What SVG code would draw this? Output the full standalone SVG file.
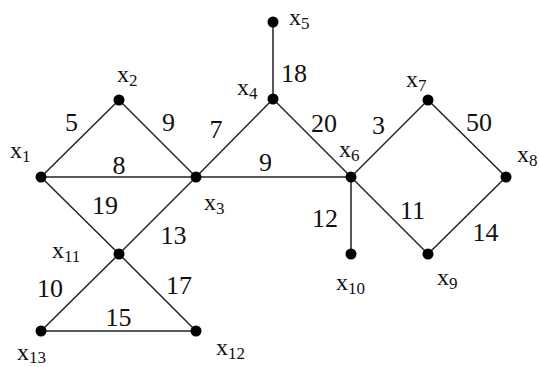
<svg xmlns="http://www.w3.org/2000/svg" width="539" height="367" viewBox="0 0 539 367">
<style>
.e{stroke:#222;stroke-width:1.5;fill:none}
.n{fill:#000}
.l{font-size:24px;fill:#111}
.s{font-size:17px}
.w{font-size:26px;fill:#111;text-anchor:middle}
</style>
<rect width="539" height="367" fill="#fff"/>
<g font-family="'Liberation Serif', 'Times New Roman', 'DejaVu Serif', serif">
<g id="connectors">
<line class="e" x1="41" y1="177" x2="119" y2="100"/>
<line class="e" x1="119" y1="100" x2="196" y2="177"/>
<line class="e" x1="41" y1="177" x2="196" y2="177"/>
<line class="e" x1="41" y1="177" x2="119" y2="254"/>
<line class="e" x1="119" y1="254" x2="196" y2="331"/>
<line class="e" x1="196" y1="177" x2="119" y2="254"/>
<line class="e" x1="119" y1="254" x2="41" y2="331"/>
<line class="e" x1="41" y1="331" x2="196" y2="331"/>
<line class="e" x1="196" y1="177" x2="273" y2="99"/>
<line class="e" x1="273" y1="99" x2="273" y2="22"/>
<line class="e" x1="273" y1="99" x2="351" y2="177"/>
<line class="e" x1="196" y1="177" x2="351" y2="177"/>
<line class="e" x1="351" y1="177" x2="428" y2="100"/>
<line class="e" x1="428" y1="100" x2="506" y2="177"/>
<line class="e" x1="351" y1="177" x2="428" y2="254"/>
<line class="e" x1="428" y1="254" x2="506" y2="177"/>
<line class="e" x1="351" y1="177" x2="351" y2="254"/>
<text class="w" x="71.5" y="131">5</text>
<text class="w" x="168.5" y="131">9</text>
<text class="w" x="216" y="138">7</text>
<text class="w" x="119" y="174">8</text>
<text class="w" x="105" y="214">19</text>
<text class="w" x="173.5" y="244">13</text>
<text class="w" x="50" y="297">10</text>
<text class="w" x="179" y="294">17</text>
<text class="w" x="118.5" y="326">15</text>
<text class="w" x="294" y="82">18</text>
<text class="w" x="324" y="132">20</text>
<text class="w" x="378.5" y="134">3</text>
<text class="w" x="265.5" y="171">9</text>
<text class="w" x="325" y="227">12</text>
<text class="w" x="412.5" y="219">11</text>
<text class="w" x="485.5" y="241">14</text>
<text class="w" x="479" y="131">50</text>
</g>
<g id="x1"><circle class="n" cx="41" cy="177" r="5.5"/><text class="l" x="10" y="158">x<tspan class="s" dy="4">1</tspan></text></g>
<g id="x2"><circle class="n" cx="119" cy="100" r="5.5"/><text class="l" x="117" y="82">x<tspan class="s" dy="4">2</tspan></text></g>
<g id="x3"><circle class="n" cx="196" cy="177" r="5.5"/><text class="l" x="204" y="210">x<tspan class="s" dy="4">3</tspan></text></g>
<g id="x4"><circle class="n" cx="273" cy="99" r="5.5"/><text class="l" x="237" y="95">x<tspan class="s" dy="4">4</tspan></text></g>
<g id="x5"><circle class="n" cx="273" cy="22" r="5.5"/><text class="l" x="289" y="25">x<tspan class="s" dy="4">5</tspan></text></g>
<g id="x6"><circle class="n" cx="351" cy="177" r="5.5"/><text class="l" x="339" y="157">x<tspan class="s" dy="4">6</tspan></text></g>
<g id="x7"><circle class="n" cx="428" cy="100" r="5.5"/><text class="l" x="406" y="87">x<tspan class="s" dy="4">7</tspan></text></g>
<g id="x8"><circle class="n" cx="506" cy="177" r="5.5"/><text class="l" x="517" y="162">x<tspan class="s" dy="4">8</tspan></text></g>
<g id="x9"><circle class="n" cx="428" cy="254" r="5.5"/><text class="l" x="437" y="285">x<tspan class="s" dy="4">9</tspan></text></g>
<g id="x10"><circle class="n" cx="351" cy="254" r="5.5"/><text class="l" x="336" y="290">x<tspan class="s" dy="4">10</tspan></text></g>
<g id="x11"><circle class="n" cx="119" cy="254" r="5.5"/><text class="l" x="52" y="258">x<tspan class="s" dy="4">11</tspan></text></g>
<g id="x12"><circle class="n" cx="196" cy="331" r="5.5"/><text class="l" x="216" y="355">x<tspan class="s" dy="4">12</tspan></text></g>
<g id="x13"><circle class="n" cx="41" cy="331" r="5.5"/><text class="l" x="17" y="360">x<tspan class="s" dy="3">13</tspan></text></g>
</g>
</svg>
